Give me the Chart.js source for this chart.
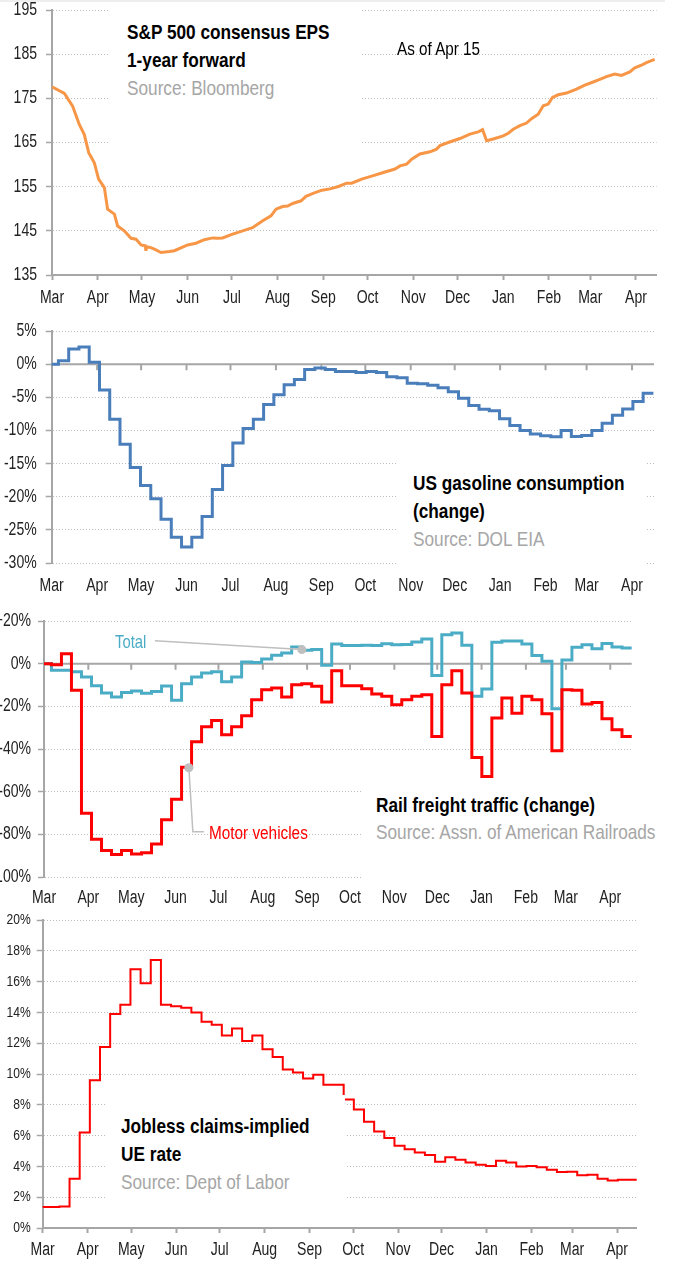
<!DOCTYPE html>
<html>
<head>
<meta charset="utf-8">
<script src="https://cdn.jsdelivr.net/npm/chart.js@4.4.1/dist/chart.umd.min.js"></script>
<style>
  html, body { margin: 0; padding: 0; background: #fff; }
  body { width: 676px; height: 1262px; overflow: hidden; }
  #page { position: relative; width: 676px; height: 1262px; font-family: 'Liberation Sans', Arial, sans-serif; }
  .panel { position: absolute; left: 0; width: 676px; }
  .cover { position: absolute; background: #fff; }
  /* no narrow face installed, so squeeze Liberation Sans like Arial Narrow */
  .note { position: absolute; white-space: nowrap; transform: scaleX(0.82); transform-origin: 0 0; }
  .title { font-weight: bold; font-size: 21px; color: #000; }
  .src { font-weight: normal; color: #a6a6a6; }
</style>
</head>
<body>
<div id="page">
  <div style="position:absolute;left:0;top:0;width:665px;height:2px;background:#eee"></div>
  <div class="panel" style="top:0;height:312px"><canvas id="eps"></canvas></div>
  <div class="panel" style="top:312px;height:290px"><canvas id="gas"></canvas></div>
  <div class="panel" style="top:602px;height:310px"><canvas id="rail"></canvas></div>
  <div class="panel" style="top:905px;height:357px"><canvas id="jobless"></canvas></div>

  <!-- white boxes behind the titles hide the dotted grid -->
  <div class="cover" style="left:110px;top:2px;width:252px;height:148px"></div>
  <div class="cover" style="left:398px;top:450px;width:249px;height:120px"></div>
  <div class="cover" style="left:362px;top:782px;width:314px;height:100px"></div>
  <div class="cover" style="left:107px;top:1095px;width:238px;height:110px"></div>

  <div class="note title" style="left:127px;top:17.9px;line-height:28.3px">S&amp;P 500 consensus EPS<br>1-year forward<br><span class="src">Source: Bloomberg</span></div>
  <div class="note" style="left:397px;top:36.6px;font-size:18.6px;line-height:24px;color:#000">As of Apr 15</div>
  <div class="note title" style="left:413px;top:468.7px;line-height:28px">US gasoline consumption<br>(change)<br><span class="src">Source: DOL EIA</span></div>
  <div class="note title" style="left:376px;top:790.6px;line-height:27.6px">Rail freight traffic (change)<br><span class="src">Source: Assn. of American Railroads</span></div>
  <div class="note" style="left:115px;top:632px;font-size:18.1px;line-height:20px;color:#4bacc6">Total</div>
  <div class="note" style="left:209px;top:823px;font-size:18.7px;line-height:20px;color:#ff0000">Motor vehicles</div>
  <div class="note title" style="left:121px;top:1112.2px;line-height:27.7px">Jobless claims-implied<br>UE rate<br><span class="src">Source: Dept of Labor</span></div>
</div>
<script>
// x axis is days since Mar 1 2020, ticks on the first of each month
const monthNames = ["Mar", "Apr", "May", "Jun", "Jul", "Aug", "Sep", "Oct", "Nov", "Dec", "Jan", "Feb", "Mar", "Apr"];
const monthStarts = ["2020-03-01", "2020-04-01", "2020-05-01", "2020-06-01", "2020-07-01", "2020-08-01",
  "2020-09-01", "2020-10-01", "2020-11-01", "2020-12-01", "2021-01-01", "2021-02-01", "2021-03-01", "2021-04-01"];

// S&P 500 consensus EPS, 1-year forward
const epsDays = [0, 8.4, 14, 18.5, 21.9, 24.9, 28.7, 31.6, 35.5, 37.7, 42.3, 44.5, 49, 53.6, 57, 60.4, 63.2, 63.7, 64.2, 67.1,
  70.5, 73.9, 79.6, 83, 92, 97.6, 103.3, 109, 112.3, 115.7, 122, 129.3, 136, 142.9, 148.5, 151.9, 156.4, 159.8, 163.2, 168.9,
  172.2, 177.9, 183.1, 188.5, 194.8, 199.8, 203.2, 210, 217.9, 224.7, 232.6, 236, 240.5, 243.9, 249.5, 256.3, 260.8, 263.1, 268.7, 276.6,
  283.4, 289, 292, 294.7, 299.2, 306, 309.4, 312.8, 317.3, 321.8, 325.2, 329.7, 333.1, 336.5, 339.4, 343.3, 348.9, 355.7, 361.3, 367,
  371.5, 376, 381.6, 386.2, 391.8, 395.2, 399.7, 403.1, 408.7];
const epsValues = [177.6, 176.1, 173.2, 169.1, 166.8, 162.7, 160.4, 156.7, 154.8, 149.9, 148.8, 146.1, 145, 143.3, 143.1, 141.8, 141.6, 140.5, 141.4, 141.2,
  140.7, 140.1, 140.3, 140.5, 141.8, 142.2, 143, 143.4, 143.3, 143.4, 144.2, 145, 145.7, 147.3, 148.4, 149.9, 150.5, 150.6, 151.2, 151.8,
  152.8, 153.6, 154.2, 154.5, 155.1, 155.8, 155.8, 156.7, 157.5, 158.2, 159, 159.7, 160.1, 161.2, 162.4, 162.9, 163.5, 164.3, 165, 165.9,
  166.9, 167.4, 167.9, 165.4, 165.8, 166.5, 167.1, 168, 168.8, 169.4, 170.4, 171.4, 173.3, 173.7, 175.2, 175.8, 176.2, 177.1, 178, 178.7,
  179.3, 179.9, 180.5, 180.2, 181, 181.9, 182.5, 183.1, 183.8];

// US gasoline consumption, % change, weekly
const gasFirstDay = -2.4;
const gasChange = [0, 0.5, 2.3, 2.6, 0.3, -3.9, -8.3, -12.1, -15.6, -18.3, -20.3, -23.4, -26.1, -27.6, -26.1, -23.0, -18.9, -15.3, -11.9, -9.7,
  -8.3, -6.1, -4.6, -3.1, -2.3, -0.8, -0.6, -0.8, -1.1, -1.1, -1.25, -1.1, -1.25, -1.9, -2.05, -2.9, -2.95, -3.2, -3.55, -4.15,
  -5.15, -6.25, -6.8, -7.05, -8.25, -9.25, -10.0, -10.55, -10.8, -10.95, -10.0, -10.9, -10.75, -10.0, -8.9, -7.7, -6.75, -5.65, -4.4, -4.4];

// Rail freight traffic, % change, weekly
const railFirstDay = -1.8;
const railTotal = [0, -3.1, -3.1, -3.8, -6.3, -10.3, -13.8, -15.6, -13.5, -12.8, -13.9, -13.0, -10.5, -17.2, -9.4, -6.3, -4.4, -3.8, -8.5, -6.3,
  0.8, 0.6, 2.2, 3.9, 5.0, 7.8, 6.3, 6.6, -0.8, 9.2, 8.5, 8.5, 8.6, 8.5, 9.3, 8.9, 9.0, 10.2, 11.6, -5.6,
  13.6, 14.4, 8.6, -15.3, -11.9, 10.0, 10.6, 10.6, 9.2, 3.8, 1.1, -21.1, 1.7, 7.7, 8.9, 7.0, 9.4, 7.8, 7.4, 7.4];
const railMotor = [0, -0.5, 4.7, -12.5, -70.1, -82.3, -87.6, -89.4, -87.6, -89.2, -88.6, -84.5, -73.2, -63.5, -48.5, -36.6, -29.6, -26.6, -33.3, -29.6,
  -24.4, -16.9, -12.2, -11.4, -15.6, -9.9, -9.4, -10.6, -18.0, -3.3, -10.3, -10.3, -11.7, -14.2, -15.3, -19.2, -16.9, -15.3, -14.6, -34.1,
  -9.9, -3.3, -13.8, -44.0, -52.9, -25.5, -16.1, -23.2, -15.3, -16.9, -23.5, -40.8, -12.2, -12.5, -18.9, -18.2, -25.8, -31.0, -34.1, -34.1];
// callouts: leader lines and dots, in data units (day, %)
const railLeaders = [
  [[77.6, 10.8], [180.3, 6.6]],
  [[101.3, -48.8], [104.1, -78.8], [111.8, -78.8]],
];
const railDots = [[180.3, 6.6], [101.3, -48.8]];

// Jobless claims-implied unemployment rate, %, weekly
const joblessFirstDay = -2.5;
const joblessRate = [1.36, 1.36, 1.4, 3.2, 6.2, 9.6, 11.76, 13.9, 14.5, 16.8, 15.9, 17.4, 14.5, 14.4, 14.3, 14.0, 13.4, 13.2, 12.5, 12.95,
  12.15, 12.5, 11.6, 11.1, 10.3, 10.1, 9.7, 9.95, 9.3, 9.3, 8.35, 7.7, 6.9, 6.27, 5.84, 5.34, 5.12, 4.9, 4.74, 4.3,
  4.6, 4.43, 4.26, 4.1, 4.02, 4.37, 4.26, 4.0, 4.02, 3.94, 3.78, 3.63, 3.65, 3.42, 3.46, 3.2, 3.09, 3.14, 3.14, 3.14];

const AXIS = "#a6a6a6";
const GRID = "#bdbdbd";
const NARROW = 0.78;
Chart.defaults.font.family = "'Liberation Sans', Arial, sans-serif";
Chart.defaults.color = "#222";

// squeeze canvas text horizontally around its anchor point
Chart.register({
  id: "narrowText",
  beforeDraw(chart) {
    const fill = CanvasRenderingContext2D.prototype.fillText;
    chart.ctx.fillText = function (text, x, y) {
      this.save();
      this.translate(x, y);
      this.scale(NARROW, 1);
      fill.call(this, text, 0, 0);
      this.restore();
    };
  },
  afterDraw(chart) {
    delete chart.ctx.fillText;
  },
});

const dayZero = Date.parse(monthStarts[0]);
const monthDays = monthStarts.map(s => Math.round((Date.parse(s) - dayZero) / 86400000));

function weekly(first, values) {
  return values.map((v, i) => ({ x: first + 7 * i, y: v }));
}

function noPadding(s) {
  s.paddingTop = 0;
  s.paddingBottom = 0;
  s.paddingLeft = 0;
  s.paddingRight = 0;
}

function xAxis(max, o) {
  return {
    type: "linear", min: 0, max: max,
    afterBuildTicks: s => { s.ticks = monthDays.map(d => ({ value: d })); },
    afterFit: s => { s.height = o.height; noPadding(s); },
    ticks: { autoSkip: false, maxRotation: 0, padding: o.pad, font: { size: 18 }, callback: (v, i) => monthNames[i] },
    grid: { display: o.ticks, drawOnChartArea: false, drawTicks: o.ticks, tickLength: 5, tickColor: AXIS, tickWidth: 2 },
    border: { display: o.ticks, color: AXIS, width: 2 },
  };
}

function yAxis(min, max, step, o) {
  return {
    min: min, max: max,
    afterFit: s => { s.width = o.width; noPadding(s); },
    ticks: { stepSize: step, padding: o.pad, font: { size: o.size }, callback: o.format },
    grid: { color: GRID, lineWidth: 1, drawTicks: true, tickLength: 6, tickColor: AXIS, tickWidth: 1.5 },
    border: { display: true, color: AXIS, width: 2, dash: [1, 2] },
  };
}

function options(top, right, x, y) {
  return {
    responsive: true, maintainAspectRatio: false, animation: false, events: [],
    layout: { padding: { top: top, right: right, left: 0, bottom: 0 } },
    plugins: { legend: { display: false }, tooltip: { enabled: false } },
    scales: { x: x, y: y },
  };
}

function lineSet(data, color, width, stepped) {
  return { data: data, borderColor: color, borderWidth: width, pointRadius: 0, tension: 0,
    stepped: stepped, borderJoinStyle: "miter", borderCapStyle: "butt", fill: false };
}

// solid zero line with month ticks hanging below it
const zeroLine = {
  id: "zeroLine",
  beforeDatasetsDraw(chart) {
    const { ctx, chartArea, scales } = chart;
    const y0 = scales.y.getPixelForValue(0);
    ctx.save();
    ctx.strokeStyle = AXIS;
    ctx.lineWidth = 2;
    ctx.beginPath();
    ctx.moveTo(chartArea.left, y0);
    ctx.lineTo(chartArea.right, y0);
    monthDays.forEach(d => {
      if (d > 0) {
        const x = scales.x.getPixelForValue(d);
        ctx.moveTo(x, y0);
        ctx.lineTo(x, y0 + 6);
      }
    });
    ctx.stroke();
    ctx.restore();
  },
};

const callouts = {
  id: "callouts",
  afterDatasetsDraw(chart) {
    const { ctx, scales } = chart;
    ctx.save();
    ctx.strokeStyle = "#bfbfbf";
    ctx.lineWidth = 1.5;
    railLeaders.forEach(path => {
      ctx.beginPath();
      path.forEach(([d, v], i) => {
        const px = scales.x.getPixelForValue(d), py = scales.y.getPixelForValue(v);
        if (i === 0) ctx.moveTo(px, py); else ctx.lineTo(px, py);
      });
      ctx.stroke();
    });
    ctx.fillStyle = "#bfbfbf";
    railDots.forEach(([d, v]) => {
      ctx.beginPath();
      ctx.arc(scales.x.getPixelForValue(d), scales.y.getPixelForValue(v), 4.5, 0, Math.PI * 2);
      ctx.fill();
    });
    ctx.restore();
  },
};

const pct = v => v + "%";
const signedPct = v => (v > 0 ? "+" : "") + v + "%";

new Chart(document.getElementById("eps"), {
  type: "line",
  data: { datasets: [lineSet(epsDays.map((d, i) => ({ x: d, y: epsValues[i] })), "#f79646", 3, false)] },
  options: options(10, 19.4,
    xAxis(410, { height: 37, pad: 7, ticks: true }),
    yAxis(135, 195, 10, { width: 52, pad: 9, size: 18, format: v => v })),
});

new Chart(document.getElementById("gas"), {
  type: "line",
  data: { datasets: [lineSet(weekly(gasFirstDay, gasChange), "#4a7ebb", 3, true)] },
  options: options(19, 22,
    xAxis(411, { height: 39, pad: 12, ticks: false }),
    yAxis(-30, 5, 5, { width: 51.7, pad: 9, size: 18, format: pct })),
  plugins: [zeroLine],
});

new Chart(document.getElementById("rail"), {
  type: "line",
  data: { datasets: [
    lineSet(weekly(railFirstDay, railMotor), "#ff0000", 3, true),
    lineSet(weekly(railFirstDay, railTotal), "#4bacc6", 3, true),
  ] },
  options: options(19, 44.3,
    xAxis(411, { height: 35, pad: 10, ticks: false }),
    yAxis(-100, 20, 20, { width: 44, pad: 7, size: 18, format: signedPct })),
  plugins: [zeroLine, callouts],
});

new Chart(document.getElementById("jobless"), {
  type: "line",
  data: { datasets: [lineSet(weekly(joblessFirstDay, joblessRate), "#ff0000", 2, true)] },
  options: options(15, 39.3,
    xAxis(409.5, { height: 34, pad: 6, ticks: true }),
    yAxis(0, 20, 2, { width: 42.7, pad: 6, size: 15.5, format: pct })),
});
</script>
</body>
</html>
